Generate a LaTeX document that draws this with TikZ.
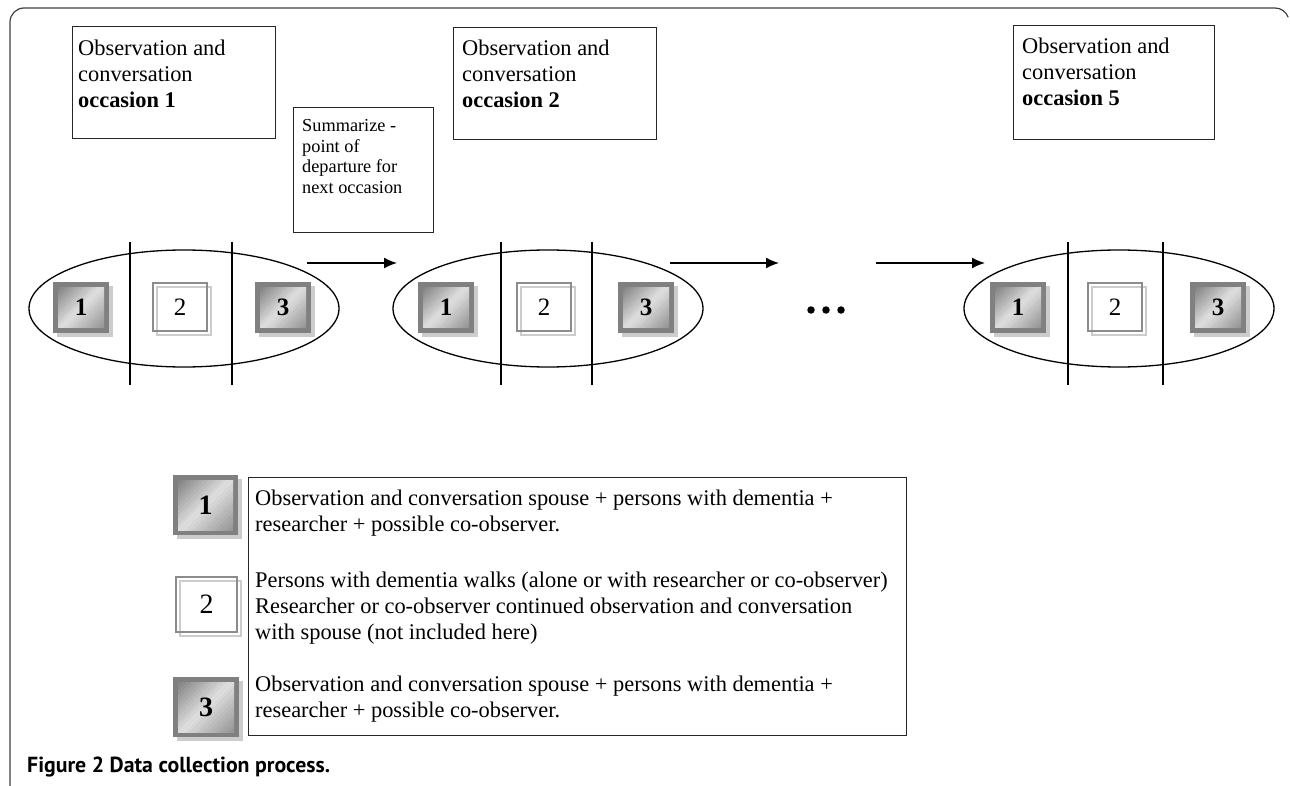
\documentclass[tikz,border=0pt]{standalone}
\usepackage{fontspec}
\setmainfont{Liberation Serif}
\newfontfamily\capfont{PT Sans}
\usetikzlibrary{shapes.geometric,arrows.meta}
\definecolor{sqframe}{gray}{0.50}
\definecolor{sqA}{gray}{0.50}
\definecolor{sqB}{gray}{0.88}
\definecolor{sqC}{gray}{0.58}
\definecolor{sqshadow}{gray}{0.80}
\definecolor{wframe}{gray}{0.55}
\definecolor{framecol}{gray}{0.25}
\newcommand\GradFill[2]{%
  \begin{scope}
    \clip (-#1,-#2) rectangle (#1,#2);
    \foreach \gi in {0,...,23}{%
      \pgfmathsetmacro\gsA{-(#1+#2) + 2*(#1+#2)*\gi/24}%
      \pgfmathsetmacro\gsB{-(#1+#2) + 2*(#1+#2)*(\gi+1)/24 + 0.4}%
      \pgfmathsetmacro\gT{(\gi+0.5)/24}%
      \pgfmathsetmacro\gP{\gT<0.5 ? \gT*200 : (\gT-0.5)*200}%
      \ifdim\gT pt<0.5pt\colorlet{bandc}{sqB!\gP!sqA}\else\colorlet{bandc}{sqC!\gP!sqB}\fi
      \fill[bandc] (\gsA+80,-80) -- (\gsA-80,80) -- (\gsB-80,80) -- (\gsB+80,-80) -- cycle;
    }
  \end{scope}}
\newcommand\DarkSq[6]{%
  \begin{scope}[shift={#2}]
    \fill[sqshadow] (-#3/2+4,-#4/2+4) rectangle (#3/2+4,#4/2+4);
    \node[fill=sqframe, draw=none, inner sep=0pt, minimum width=#3, minimum height=#4] (#1) at (0,0) {};
    \pgfmathsetmacro\hw{#3/2-5}\pgfmathsetmacro\hh{#4/2-5}%
    \GradFill{\hw}{\hh}
    \node[font=\fontsize{#5}{#5}\selectfont\bfseries, inner sep=0pt] (#1t) at (0,0) {#6};
  \end{scope}}
\newcommand\WhiteSq[6]{%
  \begin{scope}[shift={#2}]
    \draw[sqshadow, line width=1.5pt] (-#3/2+4,-#4/2+4) rectangle (#3/2+4,#4/2+4);
    \node[draw=wframe, line width=1.8pt, inner sep=0pt, minimum width=#3, minimum height=#4] (#1) at (0,0) {};
    \node[font=\fontsize{#5}{#5}\selectfont, inner sep=0pt] (#1t) at (0,0) {#6};
  \end{scope}}
\begin{document}
\begin{tikzpicture}[x=1pt,y=-1pt,
  box/.style={draw=black!85, line width=1.4pt, inner sep=0pt, anchor=north west},
  occtxt/.style={font=\fontsize{22.4}{26}\selectfont, align=left, inner sep=0pt, anchor=north west},
  sumtxt/.style={font=\fontsize{18.3}{20.5}\selectfont, align=left, inner sep=0pt, anchor=north west},
  legtxt/.style={font=\fontsize{22.4}{26}\selectfont, align=left, inner sep=0pt, anchor=north west},
  oval/.style={ellipse, draw, line width=1.3pt, inner sep=0pt, minimum width=310, minimum height=117},
  divider/.style={line width=1.2pt},
  arr/.style={-{Latex[length=13pt,width=11pt]}, line width=1.5pt},
  dotn/.style={circle, fill=black, inner sep=0pt, minimum size=7.5}
]
\useasboundingbox (0,0) rectangle (1290,786);
% outer frame
\draw[framecol, line width=1.2pt] (10,786) -- (10,22) arc[start angle=180, end angle=270, radius=14] -- (1275,8) arc[start angle=270, end angle=340, radius=14];

% occasion boxes
\node[box, minimum width=203, minimum height=112] (occ1) at (72,26) {};
\node[occtxt] (occ1t) at (78,39.5) {Observation and\\conversation\\\textbf{occasion 1}};
\node[box, minimum width=203, minimum height=112] (occ2) at (453,27) {};
\node[occtxt] (occ2t) at (462,39.5) {Observation and\\conversation\\\textbf{occasion 2}};
\node[box, minimum width=201, minimum height=114] (occ5) at (1013,25) {};
\node[occtxt] (occ5t) at (1022,37.5) {Observation and\\conversation\\\textbf{occasion 5}};

% summarize box
\node[box, minimum width=140, minimum height=125] (sum) at (293,107) {};
\node[sumtxt] (sumt) at (302,119.6) {Summarize -\\point of\\departure for\\next occasion};

% ellipse groups
\node[oval] (e1) at (184,308.5) {};
\draw[divider] (130,242) -- (130,385);
\draw[divider] (232,242) -- (232,385);
\DarkSq{a1}{(81,307.5)}{56}{50}{25}{1}
\WhiteSq{a2}{(180,307)}{54}{48}{25}{2}
\DarkSq{a3}{(283,307.5)}{56}{50}{25}{3}

\node[oval] (e2) at (548,308.5) {};
\draw[divider] (501,242) -- (501,385);
\draw[divider] (592,242) -- (592,385);
\DarkSq{b1}{(446,307.5)}{56}{50}{25}{1}
\WhiteSq{b2}{(544,307)}{54}{48}{25}{2}
\DarkSq{b3}{(646,307.5)}{56}{50}{25}{3}

\node[oval] (e5) at (1119,308.5) {};
\draw[divider] (1068,242) -- (1068,385);
\draw[divider] (1163,242) -- (1163,385);
\DarkSq{c1}{(1018,307.5)}{56}{50}{25}{1}
\WhiteSq{c2}{(1115,307)}{54}{48}{25}{2}
\DarkSq{c3}{(1218,307.5)}{56}{50}{25}{3}

% arrows
\coordinate (p1s) at (307,263); \coordinate (p1e) at (397,263);
\coordinate (p2s) at (670,263); \coordinate (p2e) at (779,263);
\coordinate (p3s) at (876,263); \coordinate (p3e) at (985,263);
\draw[arr] (p1s) -- (p1e);
\draw[arr] (p2s) -- (p2e);
\draw[arr] (p3s) -- (p3e);

% dots
\node[dotn] (d1) at (811,310) {};
\node[dotn] (d2) at (826,310) {};
\node[dotn] (d3) at (841,310) {};

% legend
\node[box, minimum width=658, minimum height=258] (leg) at (248,477) {};
\DarkSq{l1}{(205.5,505)}{65}{60}{28}{1}
\WhiteSq{l2}{(206.5,604.5)}{61}{55}{28}{2}
\DarkSq{l3}{(206,707)}{66}{60}{28}{3}
\node[legtxt] (lt1) at (255,489.7) {Observation and conversation spouse + persons with dementia +\\researcher + possible co-observer.};
\node[legtxt] (lt2) at (255,571.5) {Persons with dementia walks (alone or with researcher or co-observer)\\Researcher or co-observer continued observation and conversation\\with spouse (not included here)};
\node[legtxt] (lt3) at (255,675.7) {Observation and conversation spouse + persons with dementia +\\researcher + possible co-observer.};

% caption
\node[anchor=base west, inner sep=0pt, font=\capfont\bfseries\fontsize{21.8}{26}\selectfont] (cap) at (27,772) {Figure 2 Data collection process.};
\end{tikzpicture}
\end{document}
